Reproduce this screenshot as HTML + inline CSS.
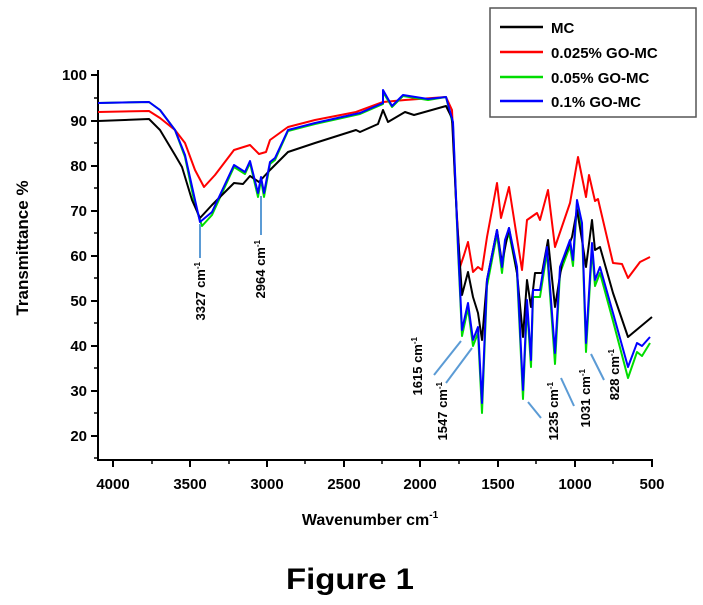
<!DOCTYPE html>
<html><head><style>
html,body{margin:0;padding:0;background:#fff;}
svg{display:block;}
text{font-family:"Liberation Sans",sans-serif;font-weight:bold;}
</style></head><body>
<svg width="703" height="605" viewBox="0 0 703 605" xmlns="http://www.w3.org/2000/svg">
<g stroke="#000" stroke-width="2" fill="none">
<path d="M98,70 V460 H653"/>
<path d="M91,75H98 M91,121H98 M91,166H98 M91,211H98 M91,256H98 M91,301H98 M91,346H98 M91,391H98 M91,436H98"/>
<path d="M94,98H98 M94,143H98 M94,188H98 M94,233H98 M94,278H98 M94,323H98 M94,368H98 M94,413H98 M94,458H98" stroke-width="1.5"/>
<path d="M113,460V467 M190,460V467 M267,460V467 M344,460V467 M420,460V467 M498,460V467 M575,460V467 M652,460V467"/>
<path d="M152,460V464 M229,460V464 M305,460V464 M382,460V464 M459,460V464 M536,460V464 M613,460V464" stroke-width="1.5"/>
</g>
<g font-size="15" text-anchor="end">
<text x="87" y="80">100</text><text x="87" y="126">90</text><text x="87" y="171">80</text><text x="87" y="216">70</text><text x="87" y="261">60</text><text x="87" y="306">50</text><text x="87" y="351">40</text><text x="87" y="396">30</text><text x="87" y="441">20</text>
</g>
<g font-size="15" text-anchor="middle">
<text x="113" y="489">4000</text><text x="190" y="489">3500</text><text x="267" y="489">3000</text><text x="344" y="489">2500</text><text x="420" y="489">2000</text><text x="498" y="489">1500</text><text x="575" y="489">1000</text><text x="652" y="489">500</text>
</g>
<text x="370" y="525" font-size="16" text-anchor="middle">Wavenumber cm<tspan font-size="10" dy="-7">-1</tspan></text>
<text transform="translate(28,248) rotate(-90)" font-size="17" text-anchor="middle">Transmittance %</text>
<text x="286" y="589" font-size="30" textLength="128" lengthAdjust="spacingAndGlyphs">Figure 1</text>

<g fill="none" stroke-width="2" stroke-linejoin="round">
<polyline stroke="#ff0000" points="98,112 149,111 160,118 175,130 185,143 195,170 204,187 215,175 234,150 250,145 259,154 266,152 270,140 288,127 315,120 356,112 383,102 405,100 446,97 452,110 456,200 460,267 464,255 468,242 473,272 478,267 482,270 487,237 497,183 501,218 509,187 522,270 527,220 537,213 540,220 548,190 555,247 570,203 578,157 586,197 589,175 595,201 598,199 613,263 622,264 628,278 640,262 650,257"/>
<polyline stroke="#00dd00" points="98,103 149,102 160,110 175,130 185,157 195,205 202,226 212,215 234,167 245,174 250,163 258,197 261,180 264,197 270,164 275,160 288,131 315,124 360,114 383,104 383,92 392,107 403,96 428,100 446,97 453,125 458,250 462,336 468,308 473,346 478,333 482,413 487,286 497,234 502,273 505,245 509,233 517,273 523,399 527,306 531,367 533,297 540,297 547,252 555,364 560,273 570,246 573,266 577,204 582,229 586,352 592,249 595,286 600,273 613,321 628,378 637,352 642,356 650,343"/>
<polyline stroke="#000000" points="98,121 149,119 160,130 175,155 182,167 192,200 200,218 212,205 234,183 243,184 250,176 259,182 270,170 288,152 315,143 356,130 360,132 378,124 383,110 388,122 405,112 414,115 446,106 452,118 457,220 462,295 468,272 473,297 478,313 482,340 487,280 497,230 502,263 509,228 517,273 523,337 527,280 531,307 535,273 542,273 548,240 555,307 562,263 572,237 577,210 582,240 586,267 592,220 595,250 600,247 613,293 628,337 640,327 652,317"/>
<polyline stroke="#0000ff" points="98,103 149,102 160,110 175,130 185,155 195,200 200,222 212,212 234,165 245,172 250,161 258,193 261,177 264,193 270,162 275,158 288,130 315,123 360,113 383,103 383,90 392,106 403,95 428,99 446,97 453,122 458,245 462,330 468,303 473,340 478,327 482,403 487,280 497,230 502,267 505,240 509,228 517,267 523,390 527,300 531,360 533,290 540,290 547,247 555,353 560,267 570,240 573,260 577,200 582,223 586,343 592,243 595,280 600,267 613,313 628,367 637,343 642,346 650,337"/>
</g>

<g stroke="#5b9bd5" stroke-width="2">
<line x1="200" y1="224" x2="200" y2="258"/>
<line x1="261" y1="196" x2="261" y2="235"/>
<line x1="434" y1="375" x2="461" y2="341"/>
<line x1="446" y1="383" x2="472" y2="348"/>
<line x1="528" y1="402" x2="541" y2="418"/>
<line x1="561" y1="378" x2="574" y2="406"/>
<line x1="591" y1="354" x2="604" y2="380"/>
</g>
<g font-size="13" text-anchor="end">
<text transform="translate(205,262) rotate(-90)">3327 cm<tspan font-size="8" dy="-5">-1</tspan></text>
<text transform="translate(265,240) rotate(-90)">2964 cm<tspan font-size="8" dy="-5">-1</tspan></text>
<text transform="translate(422,337) rotate(-90)">1615 cm<tspan font-size="8" dy="-5">-1</tspan></text>
<text transform="translate(447,382) rotate(-90)">1547 cm<tspan font-size="8" dy="-5">-1</tspan></text>
<text transform="translate(558,382) rotate(-90)">1235 cm<tspan font-size="8" dy="-5">-1</tspan></text>
<text transform="translate(590,369) rotate(-90)">1031 cm<tspan font-size="8" dy="-5">-1</tspan></text>
<text transform="translate(619,349) rotate(-90)">828 cm<tspan font-size="8" dy="-5">-1</tspan></text>
</g>

<rect x="490" y="8" width="206" height="109" fill="#fff" stroke="#555" stroke-width="1.5"/>
<g stroke-width="2.5">
<line x1="500" y1="27" x2="543" y2="27" stroke="#000"/>
<line x1="500" y1="52" x2="543" y2="52" stroke="#ff0000"/>
<line x1="500" y1="77" x2="543" y2="77" stroke="#00dd00"/>
<line x1="500" y1="101" x2="543" y2="101" stroke="#0000ff"/>
</g>
<g font-size="15">
<text x="551" y="33">MC</text>
<text x="551" y="58">0.025% GO-MC</text>
<text x="551" y="83">0.05% GO-MC</text>
<text x="551" y="107">0.1% GO-MC</text>
</g>
</svg>
</body></html>
